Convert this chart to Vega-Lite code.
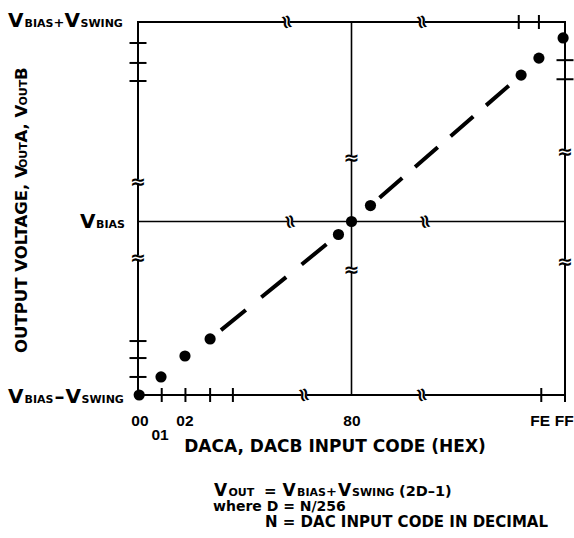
{
  "$schema": "https://vega.github.io/schema/vega-lite/v6.json",
  "width": 427,
  "height": 373,
  "autosize": "none",
  "padding": {"left": 138, "top": 22, "right": 9, "bottom": 143},
  "background": "white",
  "config": {"view": {"stroke": null}, "text": {"font": "DejaVu Sans", "fontWeight": "bold", "color": "black"}},
  "datasets": {
    "pts": [
      {"code": "00", "x": 0.05, "y": 0, "seg": 0},
      {"code": "01", "x": 0.97, "y": 1.04, "seg": 0},
      {"code": "02", "x": 1.98, "y": 2.25, "seg": 0},
      {"code": "03", "x": 3.04, "y": 3.23, "seg": 1},
      {"code": "7F", "x": 8.45, "y": 9.25, "seg": 1},
      {"code": "80", "x": 9.0, "y": 10.0, "seg": 0},
      {"code": "81", "x": 9.8, "y": 10.92, "seg": 2},
      {"code": "FD", "x": 16.15, "y": 18.44, "seg": 2},
      {"code": "FE", "x": 16.9, "y": 19.42, "seg": 0},
      {"code": "FF", "x": 17.92, "y": 20.58, "seg": 0}
    ],
    "outer": [
      {"x": 0, "x2": 18, "y": 0, "y2": 0},
      {"x": 0, "x2": 18, "y": 21.5, "y2": 21.5},
      {"x": 0, "x2": 0, "y": 0, "y2": 21.5},
      {"x": 18, "x2": 18, "y": 0, "y2": 21.5}
    ],
    "inner": [
      {"x": 0, "x2": 18, "y": 10, "y2": 10},
      {"x": 9, "x2": 9, "y": 0, "y2": 21.5}
    ],
    "hbrk": [
      {"x": 6.28, "y": 21.5}, {"x": 11.97, "y": 21.5},
      {"x": 6.41, "y": 10}, {"x": 12.1, "y": 10},
      {"x": 7.0, "y": 0}, {"x": 11.97, "y": 0}
    ],
    "vbrk": [
      {"x": 0, "y": 12.28}, {"x": 0, "y": 7.9},
      {"x": 9, "y": 13.66}, {"x": 9, "y": 7.2},
      {"x": 18, "y": 14.0}, {"x": 18, "y": 7.67}
    ],
    "vtick": [
      {"x": 1, "y": 0}, {"x": 2, "y": 0}, {"x": 3.04, "y": 0}, {"x": 4, "y": 0},
      {"x": 17, "y": 0}, {"x": 18, "y": 0},
      {"x": 16.05, "y": 21.5}, {"x": 16.9, "y": 21.5}
    ],
    "htick": [
      {"x": 0, "y": 1.04}, {"x": 0, "y": 2.13}, {"x": 0, "y": 3.11},
      {"x": 0, "y": 18.1}, {"x": 0, "y": 19.14}, {"x": 0, "y": 20.29},
      {"x": 18, "y": 18.2}, {"x": 18, "y": 19.3}
    ]
  },
  "encoding": {
    "x": {"field": "x", "type": "quantitative", "scale": {"domain": [0, 18], "nice": false, "zero": false}, "axis": null},
    "y": {"field": "y", "type": "quantitative", "scale": {"domain": [0, 21.5], "nice": false, "zero": false}, "axis": null}
  },
  "layer": [
    {"data": {"name": "outer"}, "mark": {"type": "rule", "color": "black", "strokeWidth": 2, "strokeCap": "square"},
     "encoding": {"x2": {"field": "x2"}, "y2": {"field": "y2"}}},
    {"data": {"name": "inner"}, "mark": {"type": "rule", "color": "black", "strokeWidth": 1.6},
     "encoding": {"x2": {"field": "x2"}, "y2": {"field": "y2"}}},
    {"data": {"name": "hbrk"}, "mark": {"type": "point", "shape": "square", "filled": true, "color": "white", "size": 30, "opacity": 1, "strokeWidth": 0}},
    {"data": {"name": "vbrk"}, "mark": {"type": "point", "shape": "square", "filled": true, "color": "white", "size": 30, "opacity": 1, "strokeWidth": 0}},
    {"data": {"name": "hbrk"}, "mark": {"type": "text", "text": "≈", "fontSize": 19, "angle": 75, "align": "center", "baseline": "middle"}},
    {"data": {"name": "vbrk"}, "mark": {"type": "text", "text": "≈", "fontSize": 19, "angle": 0, "align": "center", "baseline": "middle"}},
    {"data": {"name": "vtick"}, "mark": {"type": "tick", "orient": "vertical", "size": 14, "thickness": 2, "color": "black", "opacity": 1}},
    {"data": {"name": "htick"}, "mark": {"type": "tick", "orient": "horizontal", "size": 17, "thickness": 2, "color": "black", "opacity": 1}},
    {"data": {"name": "pts"}, "transform": [{"filter": "datum.seg == 1"}],
     "mark": {"type": "line", "color": "black", "strokeWidth": 4, "strokeCap": "butt", "strokeDash": [32, 20], "strokeDashOffset": 38}},
    {"data": {"name": "pts"}, "transform": [{"filter": "datum.seg == 2"}],
     "mark": {"type": "line", "color": "black", "strokeWidth": 4, "strokeCap": "butt", "strokeDash": [30, 17], "strokeDashOffset": 35}},
    {"data": {"name": "pts"}, "mark": {"type": "circle", "size": 125, "color": "black", "opacity": 1}},

    {"data": {"values": [{"t": "00", "x": 0.08, "y": 0}, {"t": "02", "x": 1.98, "y": 0}, {"t": "80", "x": 9.02, "y": 0}, {"t": "FE", "x": 16.95, "y": 0}, {"t": "FF", "x": 17.97, "y": 0}]},
     "mark": {"type": "text", "font": "Liberation Sans", "fontSize": 15.5, "align": "center", "baseline": "alphabetic", "dy": 31},
     "encoding": {"text": {"field": "t"}}},
    {"data": {"values": [{"t": "01", "x": 0.93, "y": 0}]},
     "mark": {"type": "text", "font": "Liberation Sans", "fontSize": 15.5, "align": "center", "baseline": "alphabetic", "dy": 45},
     "encoding": {"text": {"field": "t"}}},

    {"data": {"values": [{"t": "V", "x": 0, "y": 21.5}]}, "mark": {"type": "text", "fontSize": 20, "align": "left", "baseline": "alphabetic", "dx": -130, "dy": 5}, "encoding": {"text": {"field": "t"}}},
    {"data": {"values": [{"t": "BIAS", "x": 0, "y": 21.5}]}, "mark": {"type": "text", "fontSize": 11, "align": "left", "baseline": "alphabetic", "dx": -113.5, "dy": 5}, "encoding": {"text": {"field": "t"}}},
    {"data": {"values": [{"t": "+", "x": 0, "y": 21.5}]}, "mark": {"type": "text", "fontSize": 13, "align": "left", "baseline": "alphabetic", "dx": -84.5, "dy": 5}, "encoding": {"text": {"field": "t"}}},
    {"data": {"values": [{"t": "V", "x": 0, "y": 21.5}]}, "mark": {"type": "text", "fontSize": 20, "align": "left", "baseline": "alphabetic", "dx": -73.5, "dy": 5}, "encoding": {"text": {"field": "t"}}},
    {"data": {"values": [{"t": "SWING", "x": 0, "y": 21.5}]}, "mark": {"type": "text", "fontSize": 11, "align": "left", "baseline": "alphabetic", "dx": -57.5, "dy": 5}, "encoding": {"text": {"field": "t"}}},

    {"data": {"values": [{"t": "V", "x": 0, "y": 10}]}, "mark": {"type": "text", "fontSize": 20, "align": "left", "baseline": "alphabetic", "dx": -58, "dy": 6.5}, "encoding": {"text": {"field": "t"}}},
    {"data": {"values": [{"t": "BIAS", "x": 0, "y": 10}]}, "mark": {"type": "text", "fontSize": 11, "align": "left", "baseline": "alphabetic", "dx": -42, "dy": 6.5}, "encoding": {"text": {"field": "t"}}},

    {"data": {"values": [{"t": "V", "x": 0, "y": 0}]}, "mark": {"type": "text", "fontSize": 20, "align": "left", "baseline": "alphabetic", "dx": -130, "dy": 8}, "encoding": {"text": {"field": "t"}}},
    {"data": {"values": [{"t": "BIAS", "x": 0, "y": 0}]}, "mark": {"type": "text", "fontSize": 11, "align": "left", "baseline": "alphabetic", "dx": -113.5, "dy": 8}, "encoding": {"text": {"field": "t"}}},
    {"data": {"values": [{"t": "–", "x": 0, "y": 0}]}, "mark": {"type": "text", "fontSize": 20, "align": "left", "baseline": "alphabetic", "dx": -83.5, "dy": 8}, "encoding": {"text": {"field": "t"}}},
    {"data": {"values": [{"t": "V", "x": 0, "y": 0}]}, "mark": {"type": "text", "fontSize": 20, "align": "left", "baseline": "alphabetic", "dx": -72.5, "dy": 8}, "encoding": {"text": {"field": "t"}}},
    {"data": {"values": [{"t": "SWING", "x": 0, "y": 0}]}, "mark": {"type": "text", "fontSize": 11, "align": "left", "baseline": "alphabetic", "dx": -56.5, "dy": 8}, "encoding": {"text": {"field": "t"}}},

    {"data": {"values": [{"t": "OUTPUT VOLTAGE, V", "x": 0, "y": 0}]}, "mark": {"type": "text", "fontSize": 16.5, "angle": 270, "align": "left", "baseline": "alphabetic", "dx": 42, "dy": -111}, "encoding": {"text": {"field": "t"}}},
    {"data": {"values": [{"t": "OUT", "x": 0, "y": 0}]}, "mark": {"type": "text", "fontSize": 11, "angle": 270, "align": "left", "baseline": "alphabetic", "dx": 227, "dy": -111}, "encoding": {"text": {"field": "t"}}},
    {"data": {"values": [{"t": "A, V", "x": 0, "y": 0}]}, "mark": {"type": "text", "fontSize": 16.5, "angle": 270, "align": "left", "baseline": "alphabetic", "dx": 252.5, "dy": -111}, "encoding": {"text": {"field": "t"}}},
    {"data": {"values": [{"t": "OUT", "x": 0, "y": 0}]}, "mark": {"type": "text", "fontSize": 11, "angle": 270, "align": "left", "baseline": "alphabetic", "dx": 289.5, "dy": -111}, "encoding": {"text": {"field": "t"}}},
    {"data": {"values": [{"t": "B", "x": 0, "y": 0}]}, "mark": {"type": "text", "fontSize": 16.5, "angle": 270, "align": "left", "baseline": "alphabetic", "dx": 315, "dy": -111}, "encoding": {"text": {"field": "t"}}},

    {"data": {"values": [{"t": "DACA, DACB INPUT CODE (HEX)", "x": 9, "y": 0}]}, "mark": {"type": "text", "fontSize": 17, "align": "center", "baseline": "alphabetic", "dx": -16.5, "dy": 57}, "encoding": {"text": {"field": "t"}}},

    {"data": {"values": [{"t": "V", "x": 9, "y": 0}]}, "mark": {"type": "text", "fontSize": 17, "align": "left", "baseline": "alphabetic", "dx": -137.5, "dy": 101}, "encoding": {"text": {"field": "t"}}},
    {"data": {"values": [{"t": "OUT", "x": 9, "y": 0}]}, "mark": {"type": "text", "fontSize": 11, "align": "left", "baseline": "alphabetic", "dx": -123, "dy": 101}, "encoding": {"text": {"field": "t"}}},
    {"data": {"values": [{"t": "=", "x": 9, "y": 0}]}, "mark": {"type": "text", "fontSize": 15, "align": "left", "baseline": "alphabetic", "dx": -87.5, "dy": 101}, "encoding": {"text": {"field": "t"}}},
    {"data": {"values": [{"t": "V", "x": 9, "y": 0}]}, "mark": {"type": "text", "fontSize": 17, "align": "left", "baseline": "alphabetic", "dx": -69, "dy": 101}, "encoding": {"text": {"field": "t"}}},
    {"data": {"values": [{"t": "BIAS", "x": 9, "y": 0}]}, "mark": {"type": "text", "fontSize": 11, "align": "left", "baseline": "alphabetic", "dx": -54.5, "dy": 101}, "encoding": {"text": {"field": "t"}}},
    {"data": {"values": [{"t": "+", "x": 9, "y": 0}]}, "mark": {"type": "text", "fontSize": 13, "align": "left", "baseline": "alphabetic", "dx": -25.5, "dy": 101}, "encoding": {"text": {"field": "t"}}},
    {"data": {"values": [{"t": "V", "x": 9, "y": 0}]}, "mark": {"type": "text", "fontSize": 17, "align": "left", "baseline": "alphabetic", "dx": -13.5, "dy": 101}, "encoding": {"text": {"field": "t"}}},
    {"data": {"values": [{"t": "SWING", "x": 9, "y": 0}]}, "mark": {"type": "text", "fontSize": 11, "align": "left", "baseline": "alphabetic", "dx": 0.5, "dy": 101}, "encoding": {"text": {"field": "t"}}},
    {"data": {"values": [{"t": "(2D–1)", "x": 9, "y": 0}]}, "mark": {"type": "text", "fontSize": 14.5, "align": "left", "baseline": "alphabetic", "dx": 47.5, "dy": 101}, "encoding": {"text": {"field": "t"}}},
    {"data": {"values": [{"t": "where D = N/256", "x": 9, "y": 0}]}, "mark": {"type": "text", "fontSize": 14, "align": "left", "baseline": "alphabetic", "dx": -138.5, "dy": 116}, "encoding": {"text": {"field": "t"}}},
    {"data": {"values": [{"t": "N = DAC INPUT CODE IN DECIMAL", "x": 9, "y": 0}]}, "mark": {"type": "text", "fontSize": 15, "align": "left", "baseline": "alphabetic", "dx": -86.5, "dy": 132}, "encoding": {"text": {"field": "t"}}}
  ]
}
